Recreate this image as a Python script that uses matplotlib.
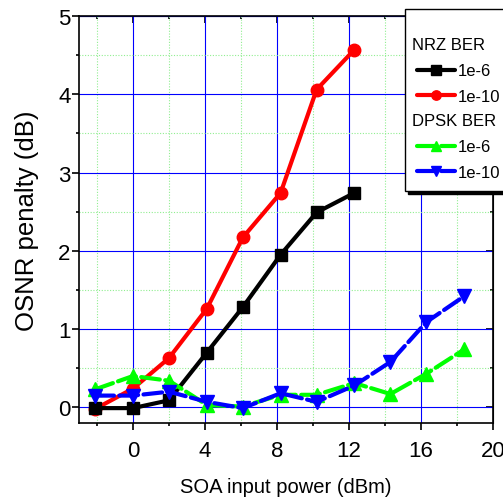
import matplotlib
matplotlib.use('Agg')
import matplotlib.pyplot as plt
from matplotlib.legend_handler import HandlerBase
from matplotlib.text import Text

plt.rcParams['font.family'] = ['Liberation Sans', 'DejaVu Sans']

# data
p_nrz = [-2.1, 0, 2, 4.1, 6.1, 8.2, 10.2, 12.3]
nrz_1e6 = [-0.01, -0.01, 0.09, 0.70, 1.28, 1.95, 2.49, 2.74]
nrz_1e10 = [-0.02, 0.24, 0.63, 1.26, 2.17, 2.74, 4.06, 4.57]

p_dpsk = [-2.1, 0, 2, 4.1, 6.1, 8.2, 10.2, 12.3, 14.3, 16.3, 18.4]
dpsk_1e6 = [0.23, 0.40, 0.34, 0.03, 0.01, 0.16, 0.16, 0.31, 0.17, 0.43, 0.74]
dpsk_1e10 = [0.15, 0.15, 0.20, 0.07, -0.01, 0.18, 0.07, 0.28, 0.58, 1.09, 1.42]

xticks = [0, 4, 8, 12, 16, 20]
yticks = [0, 1, 2, 3, 4, 5]


class Header:
    def __init__(self, text):
        self.text = text


class HeaderHandler(HandlerBase):
    def create_artists(self, legend, orig_handle, xdescent, ydescent,
                       width, height, fontsize, trans):
        t = Text(-xdescent - 3, (height - ydescent) / 2, orig_handle.text,
                 fontsize=fontsize, va='center', ha='left',
                 family=['Liberation Sans', 'DejaVu Sans'])
        t.set_transform(trans)
        return [t]


fig = plt.figure(figsize=(5.03, 5.02), dpi=100)
ax = fig.add_axes([0.1571, 0.1554, 0.8231, 0.8108])

lw = 3.0
ms = 9
l1, = ax.plot(p_nrz, nrz_1e6, color='black', marker='s', ms=ms, lw=lw,
              solid_capstyle='round', zorder=4)
l2, = ax.plot(p_nrz, nrz_1e10, color='red', marker='o', ms=ms, lw=lw,
              solid_capstyle='round', zorder=3)
l3, = ax.plot(p_dpsk, dpsk_1e6, color='#00ff00', marker='^', ms=ms + 1, lw=lw,
              linestyle=(0, (4.5, 1.3)), dash_capstyle='round', zorder=5)
l4, = ax.plot(p_dpsk, dpsk_1e10, color='#0000ff', marker='v', ms=ms + 1, lw=lw,
              linestyle=(0, (4.5, 1.3)), dash_capstyle='round', zorder=6)

ax.set_xlim(-3, 20)
ax.set_ylim(-0.2, 5)
ax.set_xticks(xticks)
ax.set_xticks([-2, 2, 6, 10, 14, 18], minor=True)
ax.set_yticks(yticks)
ax.set_yticks([0.5, 1.5, 2.5, 3.5, 4.5], minor=True)

ax.grid(which='major', color='#0000ff', lw=0.8, zorder=0)
ax.grid(which='minor', color='#90ee90', lw=0.8, linestyle=(0, (1, 1.5)), zorder=0)
ax.set_axisbelow(True)

for s in ax.spines.values():
    s.set_linewidth(1.2)

ax.tick_params(which='both', direction='out', width=1.2, labelsize=16,
               top=False, right=False)
ax.tick_params(which='major', length=5)
ax.tick_params(which='minor', length=2.5)
ax.tick_params(axis='x', pad=7)
ax.tick_params(axis='y', pad=1)

ax2 = ax.secondary_xaxis('top')
ax2.set_xticks(xticks)
ax2.set_xticks([-2, 2, 6, 10, 14, 18], minor=True)
ax2.tick_params(which='both', direction='in', width=1.2, labeltop=False)
ax2.tick_params(which='major', length=5)
ax2.tick_params(which='minor', length=2.5)
ay2 = ax.secondary_yaxis('right')
ay2.set_yticks(yticks)
ay2.set_yticks([0.5, 1.5, 2.5, 3.5, 4.5], minor=True)
ay2.tick_params(which='both', direction='in', width=1.2, labelright=False)
ay2.tick_params(which='major', length=5)
ay2.tick_params(which='minor', length=2.5)

ax.set_xlabel('SOA input power (dBm)', fontsize=14.5, labelpad=12)
ax.set_ylabel('OSNR penalty (dB)', fontsize=18.5, labelpad=14)

handles = [Header('NRZ BER'), l1, l2, Header('DPSK BER'), l3, l4]
labels = ['', '1e-6', '1e-10', '', '1e-6', '1e-10']
leg = fig.legend(handles, labels, loc='upper left',
                 bbox_to_anchor=(405 / 503, 1 - 10 / 502),
                 handler_map={Header: HeaderHandler()},
                 fontsize=12, handlelength=2.3, handletextpad=0.15,
                 labelspacing=0.62, borderpad=0.7, borderaxespad=0,
                 markerscale=0.75, fancybox=False, framealpha=1,
                 edgecolor='black', shadow={'color': 'black', 'alpha': 1},
                 title=' ', title_fontsize=6)
leg.get_frame().set_linewidth(1.0)

fig.savefig('out.png', dpi=100)
